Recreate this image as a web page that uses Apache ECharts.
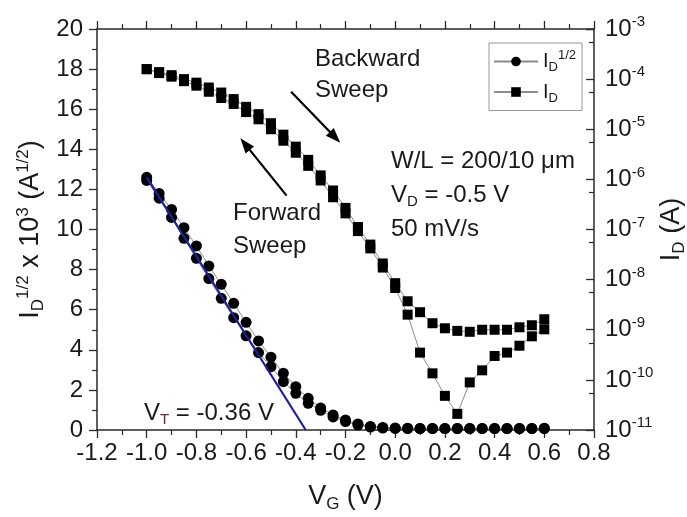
<!DOCTYPE html>
<html><head><meta charset="utf-8">
<script src="https://cdn.jsdelivr.net/npm/echarts@6/dist/echarts.min.js"></script>
<style>html,body{margin:0;padding:0;background:#fff}#c{width:687px;height:517px}</style>
</head><body><div id="c"></div>
<script>
// Gate voltage (V)
const vg = [-1.0,-0.95,-0.9,-0.85,-0.8,-0.75,-0.7,-0.65,-0.6,-0.55,-0.5,-0.45,-0.4,-0.35,-0.3,-0.25,-0.2,-0.15,-0.1,-0.05,0.0,0.05,0.1,0.15,0.2,0.25,0.3,0.35,0.4,0.45,0.5,0.55,0.6];
// I_D^(1/2) x 10^3 (A^1/2), two sweeps
const sqrtLower = [12.45,11.56,10.6,9.56,8.56,7.55,6.57,5.6,4.7,3.86,3.16,2.41,1.83,1.33,0.98,0.65,0.42,0.25,0.15,0.1,0.08,0.07,0.07,0.07,0.07,0.07,0.07,0.07,0.07,0.07,0.07,0.07,0.07];
const sqrtUpper = [12.6,11.8,11.0,10.09,9.18,8.18,7.27,6.32,5.37,4.44,3.63,2.83,2.16,1.58,1.1,0.75,0.5,0.3,0.18,0.13,0.1,0.09,0.08,0.08,0.08,0.08,0.08,0.08,0.08,0.08,0.08,0.08,0.09];
// I_D (A), two sweeps
const idLower = [1.58e-4,1.32e-4,1.12e-4,9.1e-5,7.4e-5,5.6e-5,4.2e-5,3.2e-5,2.2e-5,1.58e-5,1.0e-5,5.9e-6,3.4e-6,1.86e-6,9.5e-7,4.4e-7,2.1e-7,9.3e-8,4.2e-8,1.74e-8,6.8e-9,2.0e-9,3.5e-10,1.35e-10,4.8e-11,2.1e-11,8.9e-11,1.55e-10,3.0e-10,3.5e-10,4.8e-10,7.4e-10,1.02e-9];
const idUpper = [1.58e-4,1.38e-4,1.20e-4,1.0e-4,8.5e-5,6.8e-5,5.4e-5,4.0e-5,2.8e-5,2.0e-5,1.32e-5,7.8e-6,4.5e-6,2.45e-6,1.2e-6,6.0e-7,2.7e-7,1.12e-7,5.0e-8,2.1e-8,8.5e-9,3.7e-9,2.24e-9,1.35e-9,1.07e-9,9.5e-10,9.1e-10,1.0e-9,1.0e-9,1.0e-9,1.12e-9,1.23e-9,1.62e-9];
// Linear fit (threshold extraction)
const fitV = [-1.0, -0.36];
const fitY = [12.6, 0];
// Axis ticks
const xTicks = {min: -1.2, max: 0.8, step: 0.2};
const yTicks = {min: 0, max: 20, step: 2};
const logRange = {min: 1e-11, max: 1e-3};

const FONT = '"Liberation Sans", Arial, sans-serif';
const TXT = '#1a1a1a';
const AX = '#2a2a2a';
const rich = {
  t: {fontSize: 27, fontFamily: FONT, color: TXT},
  sub: {fontSize: 17, fontFamily: FONT, color: TXT, padding: [15, 0, 0, 0]},
  sup: {fontSize: 17, fontFamily: FONT, color: TXT, padding: [0, 0, 15, 0]}
};

function loop(a, b) {
  const out = [];
  for (let i = 0; i < vg.length; i++) out.push([vg[i], a[i]]);
  for (let i = vg.length - 1; i >= 0; i--) out.push([vg[i], b[i]]);
  return out;
}

const chart = echarts.init(document.getElementById('c'), null, {renderer: 'canvas'});
const axisCommon = {
  axisLine: {show: true, onZero: false, lineStyle: {color: AX, width: 1.5}},
  axisTick: {show: true, length: 8, lineStyle: {color: AX, width: 1.3}},
  minorTick: {show: true, splitNumber: 2, length: 5, lineStyle: {color: AX, width: 1.2}},
  splitLine: {show: false},
  nameMoveOverlap: false
};
const option = {
  animation: false,
  backgroundColor: '#fff',
  grid: {left: 97, right: 93, top: 29, bottom: 87, containLabel: false, outerBoundsMode: 'none'},
  legend: {
    orient: 'vertical', left: 489, top: 43,
    borderColor: '#999', borderWidth: 1, padding: [6, 6, 6, 4],
    itemWidth: 44, itemHeight: 12, itemGap: 8,
    data: ['sqrt', 'id'],
    formatter: function (n) { return n === 'sqrt' ? '{t|I}{sub|D}{sup|1/2}' : '{t|I}{sub|D}'; },
    textStyle: {rich: {
      t: {fontSize: 20, fontFamily: FONT, color: TXT},
      sub: {fontSize: 13, fontFamily: FONT, color: TXT, padding: [12, 0, 0, 0]},
      sup: {fontSize: 13, fontFamily: FONT, color: TXT, padding: [0, 0, 12, 0]}
    }}
  },
  xAxis: [
    Object.assign({}, axisCommon, {
      type: 'value', position: 'bottom', min: xTicks.min, max: xTicks.max, interval: xTicks.step,
      axisLabel: {fontSize: 24, fontFamily: FONT, color: TXT, margin: 11, formatter: v => v.toFixed(1)},
      name: '{t|V}{sub|G}{t| (V)}', nameLocation: 'middle', nameGap: 51,
      nameTextStyle: {rich: rich}
    }),
    Object.assign({}, axisCommon, {
      type: 'value', position: 'top', min: xTicks.min, max: xTicks.max, interval: xTicks.step,
      axisLabel: {show: false}
    })
  ],
  yAxis: [
    Object.assign({}, axisCommon, {
      type: 'value', position: 'left', min: yTicks.min, max: yTicks.max, interval: yTicks.step,
      axisLabel: {fontSize: 24, fontFamily: FONT, color: TXT, margin: 14},
      name: '{t|I}{sub|D}{sup|1/2}{t| x 10}{sup|3}{t| (A}{sup|1/2}{t|)}', nameLocation: 'middle', nameGap: 50, nameRotate: 90,
      nameTextStyle: {rich: rich}
    }),
    Object.assign({}, axisCommon, {
      type: 'log', logBase: 10, position: 'right', min: logRange.min, max: logRange.max, splitNumber: 8,
      axisTick: {show: true, inside: true, length: 8, lineStyle: {color: AX, width: 1.3}},
      minorTick: {show: true, splitNumber: 2, length: 5, lineStyle: {color: AX, width: 1.2}},
      axisLabel: {margin: 11, formatter: function (v) {
        const e = Math.round(Math.log10(v));
        return '{b|10}{s|' + e + '}';
      }, rich: {
        b: {fontSize: 24, fontFamily: FONT, color: TXT},
        s: {fontSize: 15, fontFamily: FONT, color: TXT, padding: [0, 0, 14, 0]}
      }},
      name: '{t|I}{sub|D}{t| (A)}', nameLocation: 'middle', nameGap: 62, nameRotate: 90,
      nameTextStyle: {rich: rich}
    })
  ],
  series: [
    {
      name: 'id', type: 'line', xAxisIndex: 0, yAxisIndex: 1,
      data: loop(idLower, idUpper),
      symbol: 'rect', symbolSize: 10, showAllSymbol: true,
      lineStyle: {color: '#8c8c8c', width: 1},
      itemStyle: {color: '#000'}, z: 3
    },
    {
      name: 'sqrt', type: 'line', xAxisIndex: 0, yAxisIndex: 0,
      data: loop(sqrtLower, sqrtUpper),
      symbol: 'circle', symbolSize: 11, showAllSymbol: true,
      lineStyle: {color: '#8c8c8c', width: 1},
      itemStyle: {color: '#000'}, z: 4
    },
    {
      name: 'fit', type: 'line', xAxisIndex: 0, yAxisIndex: 0,
      data: fitV.map((v, i) => [v, fitY[i]]),
      symbol: 'none', lineStyle: {color: '#1f1fa0', width: 2.2}, z: 5,
      markLine: {
        silent: true, symbol: ['none', 'triangle'], symbolSize: [11, 15],
        label: {show: false},
        lineStyle: {color: '#000', width: 2.2, type: 'solid'},
        data: [
          [{coord: [-0.419, 16.87]}, {coord: [-0.242, 14.6]}],
          [{coord: [-0.437, 11.69]}, {coord: [-0.604, 14.26]}]
        ]
      }
    }
  ],
  graphic: [
    {type: 'text', left: 315, top: 44, style: {text: 'Backward\nSweep', font: '24px ' + FONT, fill: TXT, lineHeight: 31}},
    {type: 'text', left: 233, top: 197, style: {text: 'Forward\nSweep', font: '24px ' + FONT, fill: TXT, lineHeight: 33}},
    {type: 'text', left: 391, top: 149, style: {
      text: '{t|W/L = 200/10 μm}\n{t|V}{sub|D}{t| = -0.5 V}\n{t|50 mV/s}',
      rich: {
        t: {fontSize: 24, fontFamily: FONT, fill: TXT, lineHeight: 34},
        sub: {fontSize: 15, fontFamily: FONT, fill: TXT, lineHeight: 34, padding: [14, 0, 0, 0]}
      }
    }},
    {type: 'text', left: 144, top: 401, style: {
      text: '{t|V}{sub|T}{t| = -0.36 V}',
      rich: {
        t: {fontSize: 24, fontFamily: FONT, fill: TXT},
        sub: {fontSize: 15, fontFamily: FONT, fill: '#6a2a2a', padding: [14, 0, 0, 0]}
      }
    }}
  ]
};
chart.setOption(option);
</script>
</body></html>
